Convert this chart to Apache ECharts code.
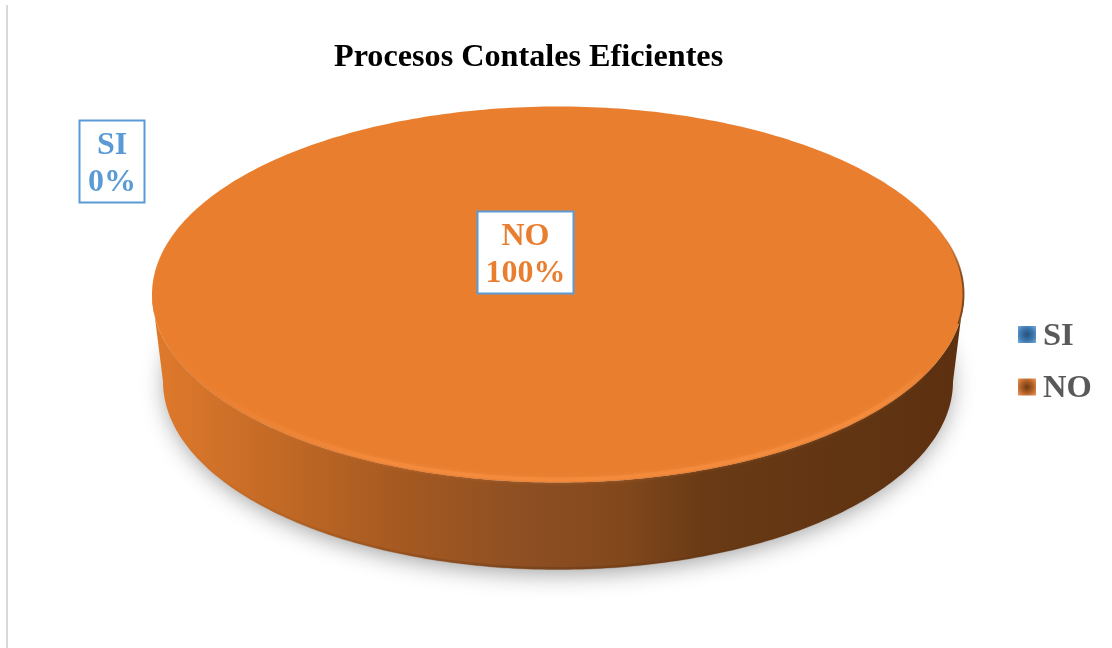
<!DOCTYPE html>
<html>
<head>
<meta charset="utf-8">
<style>html,body{margin:0;padding:0;background:#fff}#c{width:1112px;height:648px}</style>
<script src="https://cdn.jsdelivr.net/npm/echarts@6/dist/echarts.min.js"></script>
</head>
<body>
<div id="c"></div>
<script>
const titleText = 'Procesos Contales Eficientes';
const categories = ['SI', 'NO'];
const values = [0, 100];

const SERIF = '"Liberation Serif","Times New Roman",serif';
const CX = 558, CY = 294.5, RX = 406, RY = 188, DEPTH = 87, BASE_RX = 395;
const sliceColors = ['#5B9BD5', '#E97E2F'];
const labelCentres = [[112, 161.5], [525.5, 252.5]];
const labelWidths = [65, 96];
const LABEL_H = 82;
const total = values.reduce((a, b) => a + b, 0);

function arc(a0, a1, dy, rx, ry) {
  const pts = [], n = Math.max(2, Math.ceil(Math.abs(a1 - a0) * 60));
  for (let i = 0; i <= n; i++) {
    const t = a0 + (a1 - a0) * i / n;
    pts.push([CX + (rx || RX) * Math.cos(t), CY + dy + (ry || RY) * Math.sin(t)]);
  }
  return pts;
}
const hGrad = (stops) => ({type: 'linear', x: 0, y: 0, x2: 1, y2: 0, colorStops: stops});

function renderSlice(idx) {
  return function () {
    const share = values[idx] / total;
    const before = values.slice(0, idx).reduce((a, b) => a + b, 0) / total;
    const children = [];
    if (share > 0) {
      const a0 = -Math.PI / 2 + before * 2 * Math.PI;
      const a1 = a0 + share * 2 * Math.PI;
      const full = share >= 1;
      const top = arc(a0, a1, 0);
      if (!full) top.push([CX, CY]);
      const side = arc(0, Math.PI, 0).concat(arc(Math.PI, 0, DEPTH, BASE_RX, RY));
      // soft shadow on the page
      children.push({type: 'polygon', z2: 1, shape: {points: arc(0, 2 * Math.PI, DEPTH - 6, BASE_RX - 3, RY)},
        style: {fill: '#bbb', shadowBlur: 24, shadowColor: 'rgba(0,0,0,0.4)', shadowOffsetY: 9}});
      // rim wall
      children.push({type: 'polygon', z2: 2, shape: {points: side},
        style: {fill: hGrad([
          {offset: 0, color: '#E07A2C'}, {offset: 0.12, color: '#C96D27'},
          {offset: 0.3, color: '#A65A21'}, {offset: 0.47, color: '#8C4E22'},
          {offset: 0.58, color: '#82481C'}, {offset: 0.68, color: '#693A15'},
          {offset: 1, color: '#5C3010'}])}});
      // darker lower lip of the wall
      children.push({type: 'polyline', z2: 2, shape: {points: arc(0.3, Math.PI - 0.3, DEPTH - 1, BASE_RX, RY)},
        style: {fill: 'none', lineWidth: 3, stroke: hGrad([
          {offset: 0, color: 'rgba(92,48,16,0)'}, {offset: 0.5, color: 'rgba(92,48,16,0.35)'},
          {offset: 1, color: 'rgba(92,48,16,0)'}])}});
      // top face
      children.push({type: 'polygon', z2: 3, shape: {points: top},
        style: {fill: sliceColors[idx]}});
      // bevel highlight on the front edge
      children.push({type: 'polyline', z2: 4, shape: {points: arc(0.45, Math.PI + 0.1, -2, RX - 2, RY - 1)},
        style: {fill: 'none', lineWidth: 4, shadowBlur: 4, shadowColor: 'rgba(247,146,66,0.6)', stroke: hGrad([
          {offset: 0, color: 'rgba(233,126,47,0)'}, {offset: 0.3, color: 'rgba(245,140,62,0.8)'},
          {offset: 0.92, color: 'rgba(245,140,62,0.8)'}, {offset: 1, color: 'rgba(245,140,62,0.35)'}])}});
      // dark edge at the far right
      children.push({type: 'polyline', z2: 4, shape: {points: arc(-0.3, 0.16, -0.5, RX - 0.5, RY)},
        style: {fill: 'none', lineWidth: 2, stroke: {type: 'linear', x: 0, y: 0, x2: 0, y2: 1, colorStops: [
          {offset: 0, color: 'rgba(110,60,20,0)'}, {offset: 0.45, color: 'rgba(110,60,20,0.8)'},
          {offset: 1, color: 'rgba(110,60,20,0.85)'}]}}});
    }
    const [lx, ly] = labelCentres[idx];
    const lw = labelWidths[idx];
    children.push({type: 'rect', z2: 9,
      shape: {x: lx - lw / 2, y: ly - LABEL_H / 2, width: lw, height: LABEL_H},
      style: {fill: '#fff', stroke: '#5B9BD5', lineWidth: 2}});
    children.push({type: 'text', z2: 10, x: lx, y: ly + 3,
      style: {
        text: categories[idx] + '\n' + values[idx] + '%',
        fill: sliceColors[idx],
        fontFamily: SERIF, fontWeight: 'bold', fontSize: 32, lineHeight: 37,
        align: 'center', verticalAlign: 'middle'
      }});
    return {type: 'group', children};
  };
}

const pillow = (edge, mid, core) => ({type: 'radial', x: 0.5, y: 0.5, r: 0.72,
  colorStops: [{offset: 0, color: core}, {offset: 0.55, color: mid}, {offset: 1, color: edge}]});
const legendFills = [pillow('#76ACDD', '#3F78AE', '#24527F'), pillow('#F09A5A', '#B8642A', '#6E3B14')];

const chart = echarts.init(document.getElementById('c'));
chart.setOption({
  animation: false,
  backgroundColor: '#fff',
  title: {text: titleText, left: 334, top: 42, padding: 0,
    textStyle: {fontFamily: SERIF, fontWeight: 'bold', fontSize: 32.2, color: '#000'}},
  legend: {
    orient: 'vertical', left: 1018, top: 320, padding: 0, itemWidth: 18, itemHeight: 17, itemGap: 19.5,
    icon: 'rect',
    formatter: '{t|{name}}',
    textStyle: {fontFamily: SERIF, fontWeight: 'bold', fontSize: 32.5, color: '#595959',
      rich: {t: {fontFamily: SERIF, fontWeight: 'bold', fontSize: 32.5, color: '#595959', padding: [4, 0, 0, 2]}}},
    data: categories.map((name, i) => ({name, icon: 'rect', itemStyle: {color: legendFills[i]}}))
  },
  graphic: [{type: 'line', silent: true, shape: {x1: 7, y1: 5, x2: 7, y2: 648},
    style: {stroke: '#D9D9D9', lineWidth: 2}}],
  series: categories.map((name, i) => ({
    type: 'custom', name, coordinateSystem: 'none', silent: true,
    itemStyle: {color: sliceColors[i]},
    data: [{name, value: values[i]}],
    renderItem: renderSlice(i)
  }))
});
</script>
</body>
</html>
